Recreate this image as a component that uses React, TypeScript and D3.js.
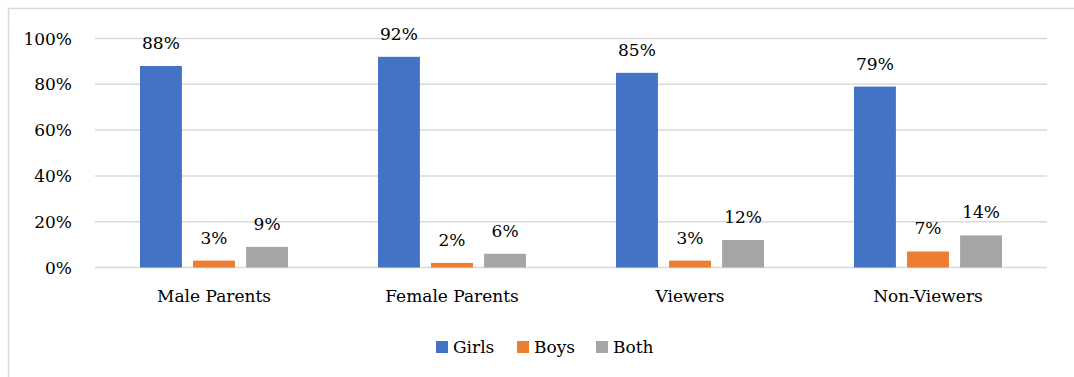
import React from "react";
import * as d3 from "d3";

const categories = ["Male Parents", "Female Parents", "Viewers", "Non-Viewers"];
const seriesNames = ["Girls", "Boys", "Both"];
const girls = [88, 92, 85, 79];
const boys = [3, 2, 3, 7];
const both = [9, 6, 12, 14];
const yTicks = [0, 20, 40, 60, 80, 100];
const colors = ["#4472C4", "#ED7D31", "#A5A5A5"];

const W = 1074;
const H = 377;
const FONT = "'DejaVu Serif', serif";
const FS = 17;

export default function App() {
  const series = [girls, boys, both];
  const x0 = d3.scaleBand<string>().domain(categories).range([95, 1047]).paddingInner(0).paddingOuter(0);
  const x1 = d3.scaleBand<string>().domain(seriesNames).range([45, 238 - 45]).paddingInner(0.21).paddingOuter(0);
  const y = d3.scaleLinear().domain([0, 100]).range([267.5, 38.5]);

  const legendX = [436, 517, 596];

  return (
    <svg width={W} height={H} style={{ position: "absolute", left: 0, top: 0 }} fontFamily={FONT}>
      <rect x={0} y={0} width={W} height={H} fill="#fff" />
      <rect x={8.5} y={8.5} width={1200} height={500} fill="none" stroke="#D9D9D9" strokeWidth={1.5} />
      {yTicks.map((t) => (
        <g key={t}>
          <line x1={95} x2={1047} y1={y(t)} y2={y(t)} stroke="#D9D9D9" strokeWidth={1.5} />
          <text x={72} y={y(t) + 6} textAnchor="end" fontSize={FS} fill="#000">
            {t}%
          </text>
        </g>
      ))}
      {categories.map((c, ci) => (
        <g key={c}>
          {series.map((s, si) => {
            const bx = (x0(c) as number) + (x1(seriesNames[si]) as number);
            const bw = x1.bandwidth();
            return (
              <g key={si}>
                <rect x={bx} y={y(s[ci])} width={bw} height={y(0) - y(s[ci])} fill={colors[si]} />
                <text x={bx + bw / 2} y={y(s[ci]) - 17} textAnchor="middle" fontSize={FS} fill="#000">
                  {s[ci]}%
                </text>
              </g>
            );
          })}
          <text x={(x0(c) as number) + x0.bandwidth() / 2} y={302} textAnchor="middle" fontSize={FS} fill="#000">
            {c}
          </text>
        </g>
      ))}
      {seriesNames.map((n, i) => (
        <g key={n}>
          <rect x={legendX[i]} y={341} width={12} height={12} fill={colors[i]} />
          <text x={legendX[i] + 17} y={353} fontSize={FS} fill="#000">
            {n}
          </text>
        </g>
      ))}
    </svg>
  );
}
